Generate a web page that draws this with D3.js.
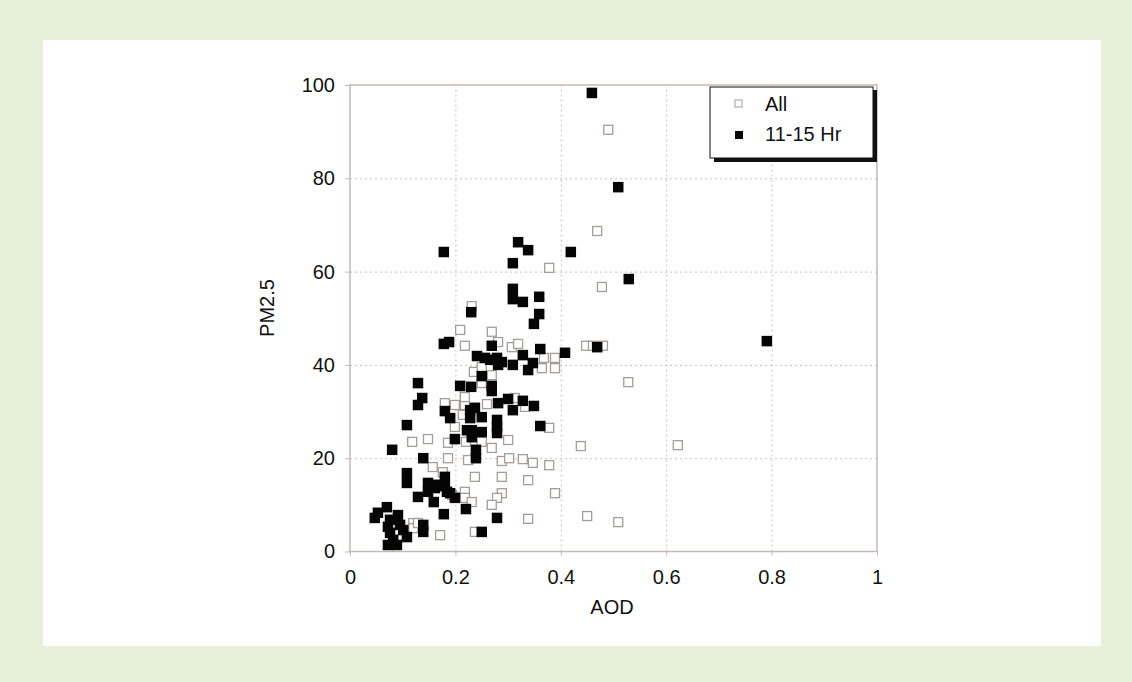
<!DOCTYPE html>
<html lang="en">
<head>
<meta charset="UTF-8">
<title>PM2.5 vs AOD</title>
<script src="https://d3js.org/d3.v7.min.js"></script>
<style>
    body { margin: 0; background: #e7f1da; }
    svg { display: block; }
    .tick text { font-family: "Liberation Sans", Arial, sans-serif; font-size: 20px; fill: #111; }
    .axis-title { font-family: "Liberation Sans", Arial, sans-serif; font-size: 20px; fill: #111; }
    .grid line { stroke: #c9c0c0; stroke-dasharray: 2, 3; }
    .grid path { display: none; }
    .legend-text { font-family: "Liberation Sans", Arial, sans-serif; font-size: 20px; fill: #111; }
</style>
</head>
<body>
<script>
// AOD / PM2.5 pairs
var allAod = [0.490, 0.469, 0.378, 0.478, 0.448, 0.461, 0.480, 0.368, 0.389, 0.364, 0.389, 0.528,
    0.378, 0.438, 0.378, 0.389, 0.450, 0.509, 0.622, 0.231, 0.209, 0.269, 0.281, 0.218, 0.307, 0.319,
    0.235, 0.250, 0.269, 0.250, 0.218, 0.180, 0.199, 0.260, 0.313, 0.332, 0.218, 0.214, 0.199, 0.148,
    0.186, 0.250, 0.269, 0.300, 0.186, 0.224, 0.288, 0.302, 0.328, 0.347, 0.157, 0.237, 0.288, 0.338,
    0.218, 0.118, 0.220, 0.176, 0.194, 0.218, 0.218, 0.231, 0.288, 0.279, 0.269, 0.338, 0.171, 0.237,
    0.120, 0.120, 0.129];
var allPm = [90.4, 68.7, 60.8, 56.7, 44.1, 44.1, 44.1, 41.5, 41.5, 39.3, 39.3, 36.3,
    26.5, 22.6, 18.5, 12.5, 7.6, 6.3, 22.8, 52.6, 47.5, 47.1, 44.9, 44.1, 43.8, 44.5,
    38.5, 39.5, 37.8, 36.1, 33.5, 31.8, 31.4, 31.6, 32.9, 31.0, 31.4, 29.3, 26.7, 24.1,
    23.3, 23.5, 22.2, 23.9, 20.0, 19.6, 19.4, 20.0, 19.8, 19.0, 18.1, 16.0, 16.0, 15.3,
    33.1, 23.5, 23.5, 17.0, 12.1, 12.8, 11.5, 10.6, 12.5, 11.5, 10.0, 7.0, 3.5, 4.2,
    6.1, 5.0, 6.1];

var hrAod = [0.459, 0.509, 0.419, 0.529, 0.319, 0.338, 0.178, 0.309, 0.309, 0.309, 0.328, 0.359,
    0.359, 0.349, 0.230, 0.178, 0.188, 0.269, 0.328, 0.361, 0.408, 0.469, 0.241, 0.256, 0.266, 0.279,
    0.281, 0.288, 0.309, 0.347, 0.338, 0.250, 0.209, 0.230, 0.269, 0.269, 0.300, 0.328, 0.281, 0.309,
    0.349, 0.129, 0.137, 0.129, 0.180, 0.190, 0.228, 0.237, 0.228, 0.250, 0.279, 0.279, 0.279, 0.222,
    0.231, 0.231, 0.250, 0.361, 0.199, 0.108, 0.239, 0.239, 0.139, 0.080, 0.108, 0.108, 0.148, 0.165,
    0.180, 0.180, 0.148, 0.161, 0.190, 0.199, 0.184, 0.129, 0.159, 0.220, 0.178, 0.279, 0.139, 0.139,
    0.250, 0.070, 0.053, 0.047, 0.076, 0.091, 0.072, 0.095, 0.076, 0.101, 0.082, 0.108, 0.072, 0.089,
    0.791];
var hrPm = [98.3, 78.1, 64.2, 58.4, 66.3, 64.6, 64.2, 61.8, 56.3, 54.1, 53.5, 54.6,
    50.9, 48.8, 51.3, 44.5, 44.9, 44.1, 42.1, 43.4, 42.6, 43.8, 41.9, 41.5, 41.1, 41.5,
    40.0, 40.6, 40.0, 40.4, 38.9, 37.6, 35.5, 35.3, 35.5, 34.4, 32.7, 32.3, 31.8, 30.3,
    31.2, 36.1, 32.9, 31.4, 30.1, 28.6, 30.3, 30.8, 28.6, 28.8, 28.2, 26.7, 25.4, 26.0,
    26.0, 24.5, 25.6, 26.9, 24.1, 27.1, 21.8, 20.0, 20.0, 21.8, 16.8, 14.7, 14.7, 14.3,
    16.0, 14.0, 12.8, 13.6, 12.5, 11.5, 12.8, 11.7, 10.6, 9.1, 8.0, 7.2, 5.7, 4.2,
    4.2, 9.5, 8.3, 7.2, 6.8, 7.8, 5.3, 5.7, 4.0, 4.6, 2.5, 3.1, 1.4, 1.4,
    45.1];

var xTicks = [0, 0.2, 0.4, 0.6, 0.8, 1];
var yTicks = [0, 20, 40, 60, 80, 100];
var seriesNames = ["All", "11-15 Hr"];

function draw() {
    var W = 1132, H = 682;
    var svg = d3.select("body").append("svg")
        .attr("width", W)
        .attr("height", H);

    // white panel on green page
    svg.append("rect")
        .attr("x", 43).attr("y", 40)
        .attr("width", 1058).attr("height", 606)
        .attr("fill", "#ffffff");

    var x = d3.scaleLinear().domain([0, 1]).range([350, 877]);
    var y = d3.scaleLinear().domain([0, 100]).range([551.5, 85]);

    // grid
    svg.append("g")
        .attr("class", "grid")
        .attr("transform", "translate(0," + y(0) + ")")
        .call(d3.axisBottom(x).tickValues(xTicks.slice(1, -1)).tickSize(-(y(0) - y(100))).tickFormat(""));
    svg.append("g")
        .attr("class", "grid")
        .attr("transform", "translate(" + x(0) + ",0)")
        .call(d3.axisLeft(y).tickValues(yTicks.slice(1, -1)).tickSize(-(x(1) - x(0))).tickFormat(""));

    // frame
    svg.append("rect")
        .attr("x", x(0)).attr("y", y(100))
        .attr("width", x(1) - x(0)).attr("height", y(0) - y(100))
        .attr("fill", "none")
        .attr("stroke", "#c4b8b6")
        .attr("stroke-width", 1.5);

    var xAxis = svg.append("g")
        .attr("transform", "translate(0," + y(0) + ")")
        .call(d3.axisBottom(x).tickValues(xTicks).tickSize(4).tickPadding(14)
            .tickFormat(function(d) { return d3.format("")(d); }));
    var yAxis = svg.append("g")
        .attr("transform", "translate(" + x(0) + ",0)")
        .call(d3.axisLeft(y).tickValues(yTicks).tickSize(5).tickPadding(10));
    [xAxis, yAxis].forEach(function(g) {
        g.select(".domain").remove();
        g.selectAll(".tick line").attr("stroke", "#c4b8b6");
    });

    // axis titles
    svg.append("text")
        .attr("class", "axis-title")
        .attr("x", 612).attr("y", 614)
        .attr("text-anchor", "middle")
        .text("AOD");
    svg.append("text")
        .attr("class", "axis-title")
        .attr("transform", "translate(274,308) rotate(-90)")
        .attr("text-anchor", "middle")
        .text("PM2.5");

    // open squares: all hours
    var s1 = 9;
    svg.append("g").selectAll("rect")
        .data(d3.zip(allAod, allPm))
        .enter().append("rect")
        .attr("x", function(d) { return x(d[0]) - s1 / 2; })
        .attr("y", function(d) { return y(d[1]) - s1 / 2; })
        .attr("width", s1).attr("height", s1)
        .attr("fill", "#ffffff")
        .attr("stroke", "#a59c9b")
        .attr("stroke-width", 1.3);

    // filled squares: 11-15 Hr
    var s2 = 10.5;
    svg.append("g").selectAll("rect")
        .data(d3.zip(hrAod, hrPm))
        .enter().append("rect")
        .attr("x", function(d) { return x(d[0]) - s2 / 2; })
        .attr("y", function(d) { return y(d[1]) - s2 / 2; })
        .attr("width", s2).attr("height", s2)
        .attr("fill", "#050505");

    // legend
    var lg = svg.append("g");
    lg.append("rect")
        .attr("x", 714).attr("y", 90)
        .attr("width", 163).attr("height", 72)
        .attr("fill", "#111");
    lg.append("rect")
        .attr("x", 710).attr("y", 87)
        .attr("width", 163).attr("height", 71)
        .attr("fill", "#ffffff")
        .attr("stroke", "#111")
        .attr("stroke-width", 1);
    lg.append("rect")
        .attr("x", 735).attr("y", 100)
        .attr("width", 7).attr("height", 7)
        .attr("fill", "#fff").attr("stroke", "#a59c9b");
    lg.append("rect")
        .attr("x", 735).attr("y", 131)
        .attr("width", 8).attr("height", 8)
        .attr("fill", "#050505");
    lg.selectAll("text.legend-text")
        .data(seriesNames)
        .enter().append("text")
        .attr("class", "legend-text")
        .attr("x", 765)
        .attr("y", function(d, i) { return 111 + i * 30; })
        .text(function(d) { return d; });
}

draw();
</script>
</body>
</html>
